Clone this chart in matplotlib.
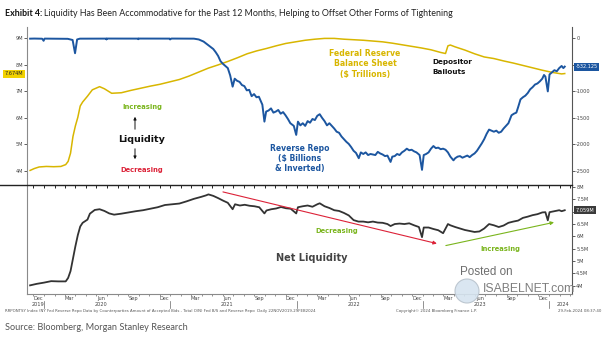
import matplotlib
matplotlib.use("Agg")
import matplotlib.pyplot as plt
import matplotlib.dates as mdates
import pandas as pd
from matplotlib.lines import Line2D
from matplotlib.patches import Ellipse, FancyArrowPatch
from matplotlib.transforms import blended_transform_factory

W, H = 605, 341

# Fed balance sheet, $ trillions (shown as "M" on the left scale)
fed_points = [
    ("2019-11-22", 4.02), ("2019-12-04", 4.09), ("2019-12-18", 4.15),
    ("2020-01-08", 4.17), ("2020-01-29", 4.16), ("2020-02-19", 4.17),
    ("2020-03-04", 4.24), ("2020-03-11", 4.36), ("2020-03-18", 4.67),
    ("2020-03-25", 5.30), ("2020-04-01", 5.70), ("2020-04-08", 6.02),
    ("2020-04-15", 6.45), ("2020-04-22", 6.60), ("2020-05-06", 6.82),
    ("2020-05-20", 7.06), ("2020-06-10", 7.18), ("2020-06-24", 7.10),
    ("2020-07-15", 6.93), ("2020-08-12", 6.95), ("2020-09-09", 7.04),
    ("2020-10-07", 7.12), ("2020-11-04", 7.20), ("2020-12-02", 7.27),
    ("2020-12-30", 7.36), ("2021-01-27", 7.45), ("2021-02-24", 7.58),
    ("2021-03-24", 7.73), ("2021-04-21", 7.88), ("2021-05-19", 8.00),
    ("2021-06-16", 8.13), ("2021-07-14", 8.27), ("2021-08-11", 8.42),
    ("2021-09-08", 8.53), ("2021-10-06", 8.62), ("2021-11-03", 8.72),
    ("2021-12-01", 8.81), ("2021-12-29", 8.87), ("2022-01-26", 8.93),
    ("2022-02-23", 8.97), ("2022-03-23", 9.00), ("2022-04-20", 9.00),
    ("2022-05-18", 8.97), ("2022-06-15", 8.95), ("2022-07-13", 8.93),
    ("2022-08-10", 8.90), ("2022-09-07", 8.87), ("2022-10-05", 8.82),
    ("2022-11-02", 8.76), ("2022-11-30", 8.70), ("2022-12-28", 8.64),
    ("2023-01-25", 8.57), ("2023-02-22", 8.47), ("2023-03-08", 8.43),
    ("2023-03-15", 8.72), ("2023-03-22", 8.75), ("2023-04-05", 8.68),
    ("2023-05-03", 8.56), ("2023-05-31", 8.42), ("2023-06-28", 8.30),
    ("2023-07-26", 8.24), ("2023-08-23", 8.15), ("2023-09-20", 8.07),
    ("2023-10-18", 7.98), ("2023-11-15", 7.89), ("2023-12-13", 7.80),
    ("2024-01-10", 7.72), ("2024-02-07", 7.66), ("2024-02-16", 7.674),
]

# Reverse repo, $ billions, plotted inverted on the right scale
rrp_points = [
    ("2019-11-22", -5), ("2019-12-04", -3), ("2019-12-27", -6),
    ("2019-12-31", -45), ("2020-01-03", -4), ("2020-02-05", -5),
    ("2020-03-10", -8), ("2020-03-24", -30), ("2020-03-31", -280),
    ("2020-04-06", -20), ("2020-04-14", -5), ("2020-06-29", -4),
    ("2020-06-30", -20), ("2020-07-01", -3), ("2020-09-29", -4),
    ("2020-09-30", -15), ("2020-10-01", -3), ("2020-12-30", -4),
    ("2020-12-31", -20), ("2021-01-04", -3), ("2021-03-10", -5),
    ("2021-03-24", -20), ("2021-04-07", -60), ("2021-04-21", -130),
    ("2021-05-05", -200), ("2021-05-12", -260), ("2021-05-19", -330),
    ("2021-05-26", -430), ("2021-06-02", -480), ("2021-06-09", -520),
    ("2021-06-16", -560), ("2021-06-23", -700), ("2021-06-30", -910),
    ("2021-07-06", -760), ("2021-07-13", -800), ("2021-07-20", -820),
    ("2021-07-27", -880), ("2021-08-03", -900), ("2021-08-10", -980),
    ("2021-08-17", -970), ("2021-08-24", -1090), ("2021-08-31", -1050),
    ("2021-09-07", -1110), ("2021-09-14", -1100), ("2021-09-24", -1250),
    ("2021-09-30", -1570), ("2021-10-05", -1380), ("2021-10-12", -1360),
    ("2021-10-19", -1320), ("2021-10-26", -1400), ("2021-11-02", -1380),
    ("2021-11-09", -1350), ("2021-11-16", -1420), ("2021-11-23", -1390),
    ("2021-11-30", -1450), ("2021-12-07", -1520), ("2021-12-14", -1600),
    ("2021-12-24", -1650), ("2021-12-31", -1820), ("2022-01-05", -1570),
    ("2022-01-12", -1640), ("2022-01-19", -1600), ("2022-01-26", -1650),
    ("2022-02-02", -1560), ("2022-02-09", -1590), ("2022-02-16", -1520),
    ("2022-02-23", -1540), ("2022-03-02", -1460), ("2022-03-09", -1430),
    ("2022-03-16", -1500), ("2022-03-23", -1560), ("2022-03-30", -1640),
    ("2022-04-06", -1600), ("2022-04-13", -1650), ("2022-04-20", -1700),
    ("2022-04-27", -1760), ("2022-05-04", -1780), ("2022-05-11", -1850),
    ("2022-05-18", -1900), ("2022-05-25", -1950), ("2022-06-01", -1990),
    ("2022-06-08", -2050), ("2022-06-15", -2120), ("2022-06-22", -2160),
    ("2022-06-30", -2260), ("2022-07-06", -2150), ("2022-07-13", -2180),
    ("2022-07-20", -2150), ("2022-07-27", -2200), ("2022-08-03", -2180),
    ("2022-08-10", -2190), ("2022-08-17", -2200), ("2022-08-24", -2140),
    ("2022-08-31", -2170), ("2022-09-07", -2190), ("2022-09-14", -2220),
    ("2022-09-21", -2210), ("2022-09-30", -2330), ("2022-10-05", -2230),
    ("2022-10-12", -2220), ("2022-10-19", -2180), ("2022-10-26", -2200),
    ("2022-11-02", -2150), ("2022-11-09", -2120), ("2022-11-16", -2080),
    ("2022-11-23", -2110), ("2022-11-30", -2100), ("2022-12-07", -2130),
    ("2022-12-14", -2150), ("2022-12-23", -2200), ("2022-12-30", -2480),
    ("2023-01-04", -2200), ("2023-01-11", -2180), ("2023-01-18", -2150),
    ("2023-01-25", -2080), ("2023-02-01", -2030), ("2023-02-08", -2070),
    ("2023-02-15", -2060), ("2023-02-22", -2090), ("2023-03-01", -2080),
    ("2023-03-08", -2100), ("2023-03-15", -2150), ("2023-03-22", -2230),
    ("2023-03-31", -2300), ("2023-04-05", -2260), ("2023-04-12", -2230),
    ("2023-04-19", -2220), ("2023-04-26", -2250), ("2023-05-03", -2230),
    ("2023-05-10", -2210), ("2023-05-17", -2240), ("2023-05-24", -2200),
    ("2023-05-31", -2170), ("2023-06-07", -2120), ("2023-06-14", -2050),
    ("2023-06-21", -1980), ("2023-06-28", -1900), ("2023-07-05", -1800),
    ("2023-07-12", -1720), ("2023-07-19", -1740), ("2023-07-26", -1760),
    ("2023-08-02", -1740), ("2023-08-09", -1780), ("2023-08-16", -1760),
    ("2023-08-23", -1700), ("2023-08-30", -1650), ("2023-09-06", -1600),
    ("2023-09-15", -1450), ("2023-09-22", -1420), ("2023-09-29", -1400),
    ("2023-10-04", -1300), ("2023-10-11", -1150), ("2023-10-18", -1110),
    ("2023-10-25", -1080), ("2023-11-01", -1030), ("2023-11-08", -960),
    ("2023-11-15", -920), ("2023-11-22", -870), ("2023-11-29", -850),
    ("2023-12-06", -810), ("2023-12-13", -760), ("2023-12-18", -690),
    ("2023-12-22", -720), ("2023-12-29", -1000), ("2024-01-03", -680),
    ("2024-01-10", -640), ("2024-01-17", -600), ("2024-01-24", -620),
    ("2024-01-31", -560), ("2024-02-07", -520), ("2024-02-12", -560),
    ("2024-02-16", -532.125),
]

# Net liquidity, $ trillions
net_points = [
    ("2019-11-22", 4.02), ("2019-12-11", 4.08), ("2020-01-01", 4.13),
    ("2020-01-22", 4.19), ("2020-02-12", 4.18), ("2020-03-04", 4.18),
    ("2020-03-11", 4.32), ("2020-03-18", 4.60), ("2020-03-25", 5.10),
    ("2020-04-01", 5.60), ("2020-04-08", 6.05), ("2020-04-15", 6.40),
    ("2020-04-22", 6.55), ("2020-05-06", 6.68), ("2020-05-13", 6.92),
    ("2020-05-27", 7.07), ("2020-06-10", 7.10), ("2020-06-24", 7.03),
    ("2020-07-08", 6.93), ("2020-07-22", 6.88), ("2020-08-12", 6.92),
    ("2020-09-02", 6.97), ("2020-09-23", 7.02), ("2020-10-14", 7.06),
    ("2020-11-04", 7.12), ("2020-11-25", 7.18), ("2020-12-16", 7.27),
    ("2021-01-06", 7.30), ("2021-01-27", 7.33), ("2021-02-17", 7.42),
    ("2021-03-10", 7.52), ("2021-03-31", 7.60), ("2021-04-14", 7.66),
    ("2021-04-21", 7.70), ("2021-05-05", 7.64), ("2021-05-19", 7.55),
    ("2021-06-02", 7.45), ("2021-06-16", 7.36), ("2021-06-30", 7.10),
    ("2021-07-07", 7.30), ("2021-07-21", 7.25), ("2021-08-04", 7.28),
    ("2021-08-18", 7.24), ("2021-09-01", 7.22), ("2021-09-15", 7.18),
    ("2021-09-30", 6.93), ("2021-10-06", 7.05), ("2021-10-20", 7.10),
    ("2021-11-03", 7.13), ("2021-11-17", 7.19), ("2021-12-01", 7.14),
    ("2021-12-15", 7.12), ("2021-12-31", 6.93), ("2022-01-05", 7.18),
    ("2022-01-19", 7.22), ("2022-02-02", 7.25), ("2022-02-16", 7.20),
    ("2022-03-02", 7.30), ("2022-03-09", 7.34), ("2022-03-23", 7.22),
    ("2022-04-06", 7.15), ("2022-04-20", 7.06), ("2022-05-04", 7.03),
    ("2022-05-18", 6.95), ("2022-06-01", 6.85), ("2022-06-15", 6.66),
    ("2022-06-29", 6.60), ("2022-07-13", 6.60), ("2022-07-27", 6.57),
    ("2022-08-10", 6.60), ("2022-08-24", 6.56), ("2022-09-07", 6.55),
    ("2022-09-21", 6.50), ("2022-09-30", 6.42), ("2022-10-12", 6.50),
    ("2022-10-26", 6.52), ("2022-11-09", 6.50), ("2022-11-23", 6.53),
    ("2022-12-07", 6.45), ("2022-12-21", 6.38), ("2022-12-30", 5.97),
    ("2023-01-04", 6.36), ("2023-01-18", 6.36), ("2023-02-01", 6.30),
    ("2023-02-15", 6.25), ("2023-03-01", 6.13), ("2023-03-15", 6.50),
    ("2023-03-22", 6.45), ("2023-04-05", 6.38), ("2023-04-19", 6.32),
    ("2023-05-03", 6.26), ("2023-05-17", 6.22), ("2023-05-31", 6.18),
    ("2023-06-14", 6.20), ("2023-06-28", 6.32), ("2023-07-12", 6.50),
    ("2023-07-26", 6.45), ("2023-08-09", 6.38), ("2023-08-23", 6.44),
    ("2023-09-06", 6.55), ("2023-09-20", 6.60), ("2023-10-04", 6.64),
    ("2023-10-18", 6.75), ("2023-11-01", 6.80), ("2023-11-15", 6.86),
    ("2023-11-29", 6.90), ("2023-12-13", 6.97), ("2023-12-22", 6.98),
    ("2023-12-29", 6.65), ("2024-01-03", 6.98), ("2024-01-17", 7.02),
    ("2024-01-31", 7.06), ("2024-02-07", 7.02), ("2024-02-16", 7.059),
]

# tick values; labels sitting under the last-value tags are left blank
fed_ticks = [4, 5, 6, 7, 8, 9]
rrp_ticks = [0, -500, -1000, -1500, -2000, -2500]
rrp_hidden = [-500]
net_ticks = [4, 4.5, 5, 5.5, 6, 6.5, 7, 7.5, 8]
net_hidden = [7]
year_labels = [("2019", "2019-12-15"), ("2020", "2020-06-15"), ("2021", "2021-06-15"),
               ("2022", "2022-06-15"), ("2023", "2023-06-15"), ("2024", "2024-02-10")]

FED_C = "#d8b600"
RRP_C = "#1c56a0"
NET_C = "#333333"
GREEN = "#7ab51d"
RED = "#dc2238"


def unzip(points):
    d, v = zip(*points)
    return pd.to_datetime(list(d)), list(v)


def fx(x):
    return x / W


def fy(y):
    return 1 - y / H


def fmt_m(v):
    return f"{v:g}M"


fed_d, fed_v = unzip(fed_points)
rrp_d, rrp_v = unzip(rrp_points)
net_d, net_v = unzip(net_points)

fig = plt.figure(figsize=(W / 100, H / 100), dpi=100)
ax_top = fig.add_axes([fx(27), fy(185), (572 - 27) / W, (185 - 27) / H])
ax_rrp = ax_top.twinx()
ax_net = fig.add_axes([fx(27), fy(294), (572 - 27) / W, (294 - 185) / H], sharex=ax_top)

x0, x1 = pd.Timestamp("2019-11-13"), pd.Timestamp("2024-03-08")
ax_top.set_xlim(x0, x1)

# top panel: balance sheet (left) and inverted reverse repo (right), same grid
lo, hi = 3.47, 9.43
ax_top.set_ylim(lo, hi)
ax_rrp.set_ylim((lo - 9) * 500, (hi - 9) * 500)
ax_top.plot(fed_d, fed_v, color=FED_C, lw=1.1, zorder=3)
ax_rrp.plot(rrp_d, rrp_v, color=RRP_C, lw=1.4, zorder=3)

for ax in (ax_top, ax_rrp, ax_net):
    for s in ax.spines.values():
        s.set_visible(False)
    ax.set_facecolor("none")

ax_top.spines["left"].set_visible(True)
ax_top.spines["left"].set_color("#8a8a8a")
ax_top.spines["left"].set_linewidth(0.8)
ax_rrp.spines["right"].set_visible(True)
ax_rrp.spines["right"].set_color("#555555")
ax_rrp.spines["right"].set_linewidth(0.8)

ax_top.set_yticks(fed_ticks)
ax_top.set_yticklabels([fmt_m(v) for v in fed_ticks])
ax_rrp.set_yticks(rrp_ticks)
ax_rrp.set_yticklabels(["" if v in rrp_hidden else str(v) for v in rrp_ticks])
for ax in (ax_top, ax_rrp):
    ax.tick_params(axis="y", direction="out", length=2, width=0.6, colors="#444444",
                   labelsize=3.6, pad=1)
ax_top.tick_params(axis="x", bottom=False, labelbottom=False)

ax_top.annotate("7.674M", xy=(0, 7.674), xycoords=("axes fraction", "data"),
                xytext=(-2.5, 0), textcoords="offset points", ha="right", va="center",
                fontsize=3.6, color="#222222", zorder=5, annotation_clip=False,
                bbox=dict(boxstyle="square,pad=0.3", fc="#f2d200", ec="none"))
ax_rrp.annotate("-532.125", xy=(1, -532.125), xycoords=("axes fraction", "data"),
                xytext=(2.5, 0), textcoords="offset points", ha="left", va="center",
                fontsize=3.6, color="white", zorder=5, annotation_clip=False,
                bbox=dict(boxstyle="square,pad=0.3", fc=RRP_C, ec="none"))

# bottom panel: net liquidity
ax_net.set_ylim(3.67, 8.08)
ax_net.plot(net_d, net_v, color=NET_C, lw=1.3, zorder=3)
for side, col in (("left", "#8a8a8a"), ("right", "#555555"), ("bottom", "#8a8a8a")):
    ax_net.spines[side].set_visible(True)
    ax_net.spines[side].set_color(col)
    ax_net.spines[side].set_linewidth(0.8)
ax_net.yaxis.tick_right()
ax_net.set_yticks(net_ticks)
ax_net.set_yticklabels(["" if v in net_hidden else fmt_m(v) for v in net_ticks])
ax_net.tick_params(axis="y", direction="out", length=2, width=0.6, colors="#444444",
                   labelsize=3.6, pad=1)
ax_net.annotate("7.059M", xy=(1, 7.059), xycoords=("axes fraction", "data"),
                xytext=(2.5, 0), textcoords="offset points", ha="left", va="center",
                fontsize=3.6, color="white", zorder=5, annotation_clip=False,
                bbox=dict(boxstyle="square,pad=0.3", fc="#3a3a3a", ec="none"))

ax_net.xaxis.set_major_locator(mdates.MonthLocator(bymonth=[3, 6, 9, 12], bymonthday=15))
ax_net.xaxis.set_major_formatter(mdates.DateFormatter("%b"))
ax_net.xaxis.set_minor_locator(mdates.MonthLocator())
ax_net.tick_params(axis="x", which="major", length=0, labelsize=3.6, colors="#444444", pad=1.2)
ax_net.tick_params(axis="x", which="minor", length=1.5, width=0.5, color="#666666")

ytrans = blended_transform_factory(ax_net.transData, ax_net.transAxes)
for label, when in year_labels:
    ax_net.text(pd.Timestamp(when), -0.092, label, transform=ytrans, ha="center",
                va="center", fontsize=3.6, color="#444444", clip_on=False)
for year in range(2020, 2025):
    ax_net.add_line(Line2D([pd.Timestamp(f"{year}-01-01")] * 2, [-0.06, -0.125],
                           transform=ytrans, color="#666666", lw=0.5, clip_on=False))

# divider between the two panels
fig.add_artist(Line2D([0, fx(572)], [fy(185), fy(185)], color="#222222", lw=1.0))

# trend arrows in the bottom panel
ax_net.annotate("", xy=(pd.Timestamp("2023-02-11"), 5.71), xytext=(pd.Timestamp("2021-06-02"), 7.80),
                arrowprops=dict(arrowstyle="-|>", color=RED, lw=0.8, mutation_scale=5,
                                shrinkA=0, shrinkB=0), zorder=4)
ax_net.annotate("", xy=(pd.Timestamp("2024-01-16"), 6.57), xytext=(pd.Timestamp("2023-03-09"), 5.63),
                arrowprops=dict(arrowstyle="-|>", color=GREEN, lw=0.8, mutation_scale=5,
                                shrinkA=0, shrinkB=0), zorder=4)

# labels
bold = dict(fontweight="bold", ha="center", va="center")
fig.text(fx(365), fy(53), "Federal Reserve", color=FED_C, fontsize=5.6, **bold)
fig.text(fx(365), fy(63.5), "Balance Sheet", color=FED_C, fontsize=5.6, **bold)
fig.text(fx(365), fy(74), "($ Trillions)", color=FED_C, fontsize=5.6, **bold)
fig.text(fx(432), fy(62), "Depositor", color="#111111", fontsize=5.2, fontweight="bold", va="center")
fig.text(fx(432), fy(71.5), "Bailouts", color="#111111", fontsize=5.2, fontweight="bold", va="center")
fig.text(fx(300), fy(148), "Reverse Repo", color=RRP_C, fontsize=5.5, **bold)
fig.text(fx(300), fy(158.5), "($ Billions", color=RRP_C, fontsize=5.5, **bold)
fig.text(fx(300), fy(169), "& Inverted)", color=RRP_C, fontsize=5.5, **bold)

fig.text(fx(142), fy(107), "Increasing", color=GREEN, fontsize=4.9, **bold)
fig.text(fx(142), fy(139), "Liquidity", color="#111111", fontsize=6.8, **bold)
fig.text(fx(142), fy(170), "Decreasing", color=RED, fontsize=4.9, **bold)
for ya, yb in ((132, 114), (146, 162)):
    fig.add_artist(FancyArrowPatch((fx(135), fy(ya)), (fx(135), fy(yb)),
                                   transform=fig.transFigure, arrowstyle="-|>",
                                   mutation_scale=4, lw=0.7, color="#111111"))

fig.text(fx(337), fy(231), "Decreasing", color=GREEN, fontsize=4.9, **bold)
fig.text(fx(500), fy(249), "Increasing", color=GREEN, fontsize=4.9, **bold)
fig.text(fx(312), fy(258), "Net Liquidity", color="#444444", fontsize=7.0, **bold)

# watermark
fig.add_artist(Ellipse((fx(467), fy(291)), 24 / W, 24 / H, transform=fig.transFigure,
                       fc="#d6e4f0", ec="#b8c2cc", lw=0.8, alpha=0.9))
fig.text(fx(460), fy(272), "Posted on", color="#6e6e6e", fontsize=8.4,
         family="Liberation Sans", va="center")
fig.text(fx(483), fy(289), "ISABELNET.com", color="#7e7e7e", fontsize=8.8,
         family="Liberation Sans", va="center")

# title: bold lead-in followed by the regular text
title_y = fy(13)
t1 = fig.text(fx(5), title_y, "Exhibit 4:", fontsize=6.4, fontweight="bold",
              family="Lato", va="center", color="#111111")
fig.canvas.draw()
bb = t1.get_window_extent()
fig.text((bb.x1 + 2) / W, title_y,
         "Liquidity Has Been Accommodative for the Past 12 Months, Helping to Offset Other Forms of Tightening",
         fontsize=6.4, family="Lato", va="center", color="#222222")

# footer
fig.text(fx(5), fy(311),
         "RRPONTSY Index (NY Fed Reverse Repo Data by Counterparties Amount of Accepted Bids - Total O/N) "
         "Fed B/S and Reverse Repo  Daily 22NOV2019-29FEB2024",
         fontsize=2.8, color="#555555", va="center")
fig.text(fx(436), fy(311), "Copyright\u00a9 2024 Bloomberg Finance L.P.", fontsize=2.8,
         color="#555555", va="center", ha="center")
fig.text(fx(601), fy(311), "29-Feb-2024 08:37:40", fontsize=2.8, color="#555555",
         va="center", ha="right")
fig.text(fx(5), fy(327), "Source: Bloomberg, Morgan Stanley Research", fontsize=6.6,
         family="Lato", color="#555555", va="center")

fig.savefig("out.png", dpi=100)
